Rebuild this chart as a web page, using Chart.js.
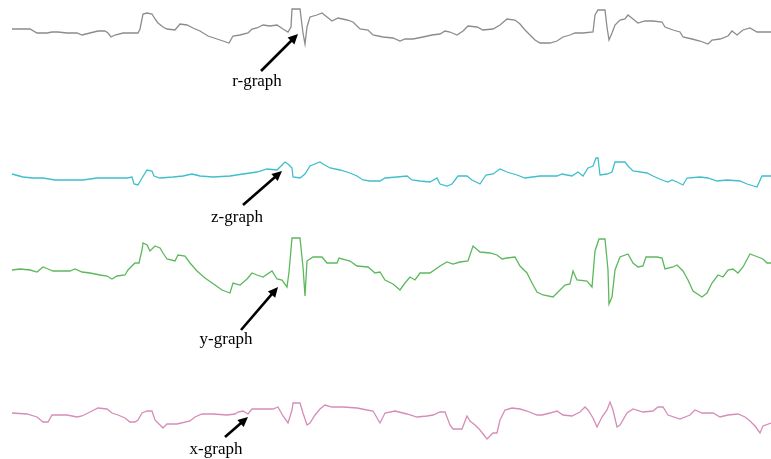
<!DOCTYPE html>
<html>
<head>
<meta charset="utf-8">
<script src="https://cdn.jsdelivr.net/npm/chart.js@4/dist/chart.umd.min.js"></script>
<style>
  html, body { margin: 0; padding: 0; background: #fff; }
  #wrap { width: 771px; height: 459px; }
</style>
</head>
<body>
<div id="wrap"><canvas id="graphs"></canvas></div>
<script>
// traces: x position and signal level (screen units, y down)
var rX = [12,17,23,30,37,47,52,58,67,77,82,90,98,105,108,111,115,123,138,140,143,147,152,155,158,163,167,175,180,187,193,200,208,217,223,229,233,240,248,252,257,
          263,270,277,283,288,291,292,300,303,305,307,310,317,322,327,332,338,347,353,360,368,373,383,393,400,405,413,423,432,440,445,450,457,463,468,477,483,493,500,507,
          515,520,525,530,535,540,550,557,563,570,575,583,593,595,598,605,607,609,612,615,620,625,628,633,638,645,653,662,665,673,680,683,692,700,708,712,720,728,732,737,743,750,757,767,771]
var rY = [29,29,29,29,33,33,32,32,33,33,35,33,31,31,33,37,35,33,33,29,14,13,14,19,23,27,29,30,24,25,28,31,36,39,41,43,36,35,33,29,28,
          25,26,25,29,32,27,9,9,33,44,27,17,15,13,17,21,18,20,22,29,30,35,37,38,41,39,39,37,35,34,31,32,35,31,26,27,30,29,25,19,
          20,24,30,35,40,43,43,41,37,35,33,33,32,15,10,10,27,40,33,25,20,19,15,19,23,21,21,22,27,30,32,37,39,41,44,40,39,36,31,35,30,28,32,32,32]

var zX = [12,23,33,43,55,67,83,97,110,127,132,134,138,142,147,152,154,160,173,183,192,200,213,230,243,257,267,277,282,285,288,292,293,300,305,310,320,323,330,340,350,357,363,370,380,
          385,397,407,412,420,430,437,440,447,452,458,467,472,480,486,493,500,507,517,525,540,557,562,572,578,583,588,593,596,598,600,607,612,615,625,628,633,647,653,662,668,672,677,683,687,700,708,717,727,740,747,757,762,771]
var zY = [174,177,178,178,180,180,180,178,178,178,177,184,185,178,170,171,176,178,177,176,174,176,177,176,174,172,169,170,165,162,164,168,177,178,174,166,162,164,168,170,173,176,180,181,181,
          178,177,176,180,181,182,178,184,186,184,176,176,180,184,175,174,169,172,175,178,176,176,174,176,172,176,168,166,158,158,175,174,172,162,162,166,171,173,176,180,182,180,182,185,178,177,178,181,180,181,184,187,176,176]

var yX = [12,20,30,37,43,48,53,70,75,82,90,100,107,112,117,125,128,135,139,142,143,147,150,155,160,163,167,175,178,185,190,197,205,215,222,230,233,240,247,252,257,
          263,272,277,282,287,289,292,300,303,305,307,313,322,327,337,339,350,357,368,375,380,385,393,400,405,410,415,420,430,440,447,453,460,468,473,480,490,497,502,507,
          515,520,527,532,537,543,553,558,565,570,573,577,587,592,595,599,605,608,609,612,615,620,628,633,638,643,646,657,662,665,673,677,683,688,693,702,707,712,718,723,728,733,738,743,750,758,763,767,771]
var yY = [270,269,270,272,267,269,271,271,269,272,273,275,276,279,276,275,270,263,263,250,243,245,251,246,248,253,259,261,255,256,263,271,278,285,290,293,283,285,279,273,275,
          277,271,279,280,287,272,238,238,267,296,261,257,257,263,263,258,261,266,267,273,272,280,284,290,283,277,280,273,273,266,262,264,262,261,246,252,253,255,259,258,
          257,266,273,283,292,295,297,292,285,284,271,280,281,287,251,239,239,270,304,297,270,257,254,263,267,266,257,257,258,269,267,265,271,280,291,297,293,283,275,277,270,269,273,267,254,257,259,263,263]

var xX = [12,27,37,43,48,52,67,77,82,90,98,107,112,118,125,130,135,138,142,147,152,155,160,163,167,177,190,195,202,213,227,235,238,243,248,252,263,273,278,283,288,292,293,300,303,307,310,315,320,325,332,343,357,367,373,380,
          385,395,407,417,427,433,440,445,450,453,462,467,470,475,480,487,493,497,500,505,512,520,527,537,542,550,557,563,572,580,585,588,593,597,602,607,610,613,617,620,627,633,643,653,658,663,668,680,690,695,702,713,720,728,738,745,750,755,760,763,771]
var xY = [413,414,417,422,422,415,415,417,416,412,408,409,413,415,418,422,422,420,413,411,411,420,425,428,424,424,421,417,414,414,415,414,412,411,414,409,409,409,407,416,423,410,403,403,413,425,423,415,409,405,407,407,408,410,411,423,
          413,411,414,417,416,415,412,412,425,429,429,416,421,425,430,439,433,433,420,410,408,409,411,415,415,413,411,415,416,412,407,410,418,427,417,410,402,410,427,425,413,409,412,411,407,407,415,419,415,410,413,413,417,415,414,417,421,426,433,426,423]

var traceColors = ['#8c8c8c', '#3fbfcb', '#5cb85c', '#d68cb8']
var labels = ['r-graph', 'z-graph', 'y-graph', 'x-graph']
// label anchor [text x, text y] and arrow [tail x, tail y, head x, head y]
var labelPos = [[257, 82], [237, 218], [226, 340], [216, 450]]
var arrowPos = [[261, 71, 298, 34], [243, 205, 282, 171], [241, 330, 278, 287], [225, 437, 248, 417]]

function points(xs, ys) {
    var out = []
    for (var i = 0; i < xs.length; i++) out.push({x: xs[i], y: ys[i]})
    return out
}

var series = [points(rX, rY), points(zX, zY), points(yX, yY), points(xX, xY)]

// ==== arrows and labels, placed through the chart scales ====
var annotate = {
    id: 'annotate',
    afterDatasetsDraw: function(chart) {
        var ctx = chart.ctx
        var sx = chart.scales.x, sy = chart.scales.y
        ctx.save()
        for (var i = 0; i < labels.length; i++) {
            var a = arrowPos[i]
            var x1 = sx.getPixelForValue(a[0]), y1 = sy.getPixelForValue(a[1])
            var x2 = sx.getPixelForValue(a[2]), y2 = sy.getPixelForValue(a[3])
            var ang = Math.atan2(y2 - y1, x2 - x1)
            var head = 11
            ctx.strokeStyle = '#000'
            ctx.fillStyle = '#000'
            ctx.lineWidth = 2.6
            ctx.beginPath()
            ctx.moveTo(x1, y1)
            ctx.lineTo(x2 - Math.cos(ang) * head * 0.8, y2 - Math.sin(ang) * head * 0.8)
            ctx.stroke()
            ctx.beginPath()
            ctx.moveTo(x2, y2)
            ctx.lineTo(x2 - head * Math.cos(ang - 0.45), y2 - head * Math.sin(ang - 0.45))
            ctx.lineTo(x2 - head * Math.cos(ang + 0.45), y2 - head * Math.sin(ang + 0.45))
            ctx.closePath()
            ctx.fill()

            ctx.font = '17px "Liberation Serif", "Times New Roman", serif'
            ctx.textAlign = 'center'
            ctx.textBaseline = 'middle'
            ctx.fillText(labels[i], sx.getPixelForValue(labelPos[i][0]), sy.getPixelForValue(labelPos[i][1]))
        }
        ctx.restore()
    }
}

var config = {
    type: 'scatter',
    data: {
        datasets: series.map(function(s, i) {
            return {
                data: s,
                showLine: true,
                borderColor: traceColors[i],
                borderWidth: 1.3,
                tension: 0,
                pointRadius: 0,
                fill: false
            }
        })
    },
    options: {
        responsive: true,
        maintainAspectRatio: false,
        animation: false,
        layout: { padding: 0 },
        plugins: {
            legend: false,
            tooltip: { enabled: false }
        },
        scales: {
            x: { type: 'linear', min: 0, max: 771, display: false },
            y: { type: 'linear', min: 0, max: 459, reverse: true, display: false }
        }
    },
    plugins: [annotate]
}

new Chart(document.getElementById('graphs').getContext('2d'), config)
</script>
</body>
</html>
